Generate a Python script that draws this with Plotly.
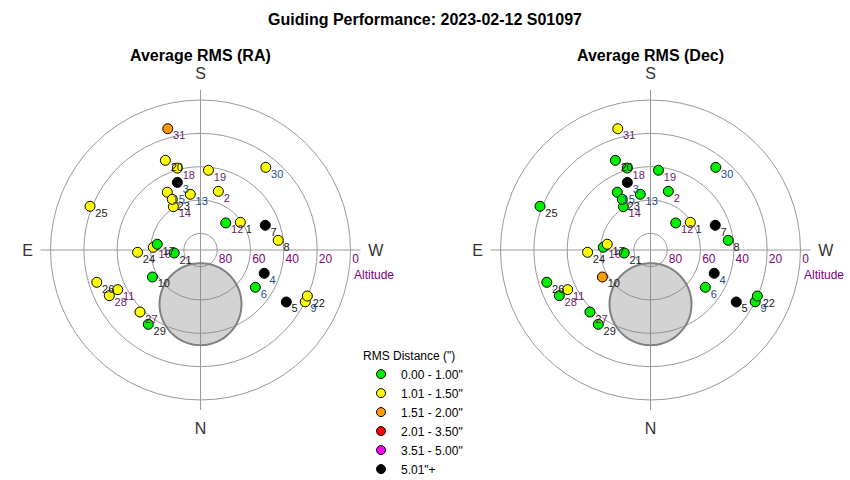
import math
import plotly.graph_objects as go

# ---------------- data ----------------
point_ids = list(range(1, 32))
azimuth = [235.2, 196.9, 161.1, 290.1, 301.2, 304.2, 249.1, 262.9, 296.3, 60.7,
           64.4, 223.0, 169.6, 147.9, 150.1, 93.3, 97.6, 164.2, 185.7, 158.6,
           83.5, 293.3, 150.9, 87.9, 111.6, 72.7, 44.3, 63.4, 35.1, 218.3, 164.9]
altitude = [60.9, 53.2, 47.1, 49.3, 29.8, 50.2, 48.4, 43.0, 19.9, 56.9,
            34.9, 67.8, 56.0, 59.3, 50.0, 61.6, 63.8, 38.9, 41.9, 32.2,
            74.1, 20.2, 55.2, 52.2, 18.7, 24.8, 38.0, 28.8, 35.5, 26.8, 14.6]

bin_labels = ['0.00 - 1.00"', '1.01 - 1.50"', '1.51 - 2.00"',
              '2.01 - 3.50"', '3.51 - 5.00"', '5.01"+']
bin_colors = ["#00ee00", "#ffff00", "#ff9900", "#ff0000", "#ff00ff", "#000000"]

# RMS bin index per point (index into bin_labels)
ra_bin = [1, 1, 5, 5, 5, 0, 5, 1, 1, 0,
          1, 0, 1, 1, 1, 1, 0, 1, 1, 1,
          0, 1, 1, 1, 1, 1, 1, 1, 0, 1, 2]
dec_bin = [1, 0, 5, 5, 5, 0, 5, 0, 0, 2,
           1, 0, 0, 0, 0, 0, 1, 0, 0, 0,
           0, 0, 0, 1, 0, 0, 0, 0, 0, 0, 1]

# label colour class per point
label_palette = ["#1a1a1a", "#6a1a6a", "#1a4a8a"]
label_class = [0, 1, 2, 2, 0, 2, 0, 0, 2, 0,
               1, 1, 2, 1, 2, 1, 0, 1, 1, 0,
               0, 0, 0, 0, 0, 0, 1, 1, 0, 2, 1]

alt_ticks = [80, 60, 40, 20, 0]
compass_az = [0, 90, 180, 270]
compass_txt = ["N", "E", "S", "W"]

# obstructed area (disc) in alt/az
disc_center_alt = 57.5
disc_center_az = 0.0
disc_radius_deg = 24.6

title_text = "Guiding Performance: 2023-02-12 S01097"
sub_titles = ["Average RMS (RA)", "Average RMS (Dec)"]

FONT = "Liberation Sans, Arial"

# ---------------- helpers ----------------
zenith = [90 - a for a in altitude]


def disc_polygon():
    zc = 90 - disc_center_alt
    ang = math.radians(disc_center_az)
    cx, cy = zc * math.sin(ang), zc * math.cos(ang)
    rr, tt = [], []
    for i in range(121):
        t = 2 * math.pi * i / 120
        x = cx + disc_radius_deg * math.cos(t)
        y = cy + disc_radius_deg * math.sin(t)
        rr.append(math.hypot(x, y))
        tt.append(math.degrees(math.atan2(x, y)) % 360)
    return rr, tt


disc_r, disc_t = disc_polygon()

fig = go.Figure()

for pname, bins in [("polar", ra_bin), ("polar2", dec_bin)]:
    fig.add_trace(go.Scatterpolar(
        r=disc_r, theta=disc_t, mode="lines", fill="toself",
        fillcolor="rgba(128,128,128,0.35)",
        line=dict(color="#808080", width=2),
        hoverinfo="skip", showlegend=False, subplot=pname))
    fig.add_trace(go.Scatterpolar(
        r=zenith, theta=azimuth, mode="markers",
        marker=dict(size=10, color=[bin_colors[b] for b in bins],
                    line=dict(color="#000000", width=1)),
        text=[str(p) for p in point_ids], hoverinfo="text",
        showlegend=False, subplot=pname))
    fig.add_trace(go.Scatterpolar(
        r=zenith, theta=azimuth, mode="markers+text",
        text=["\u00a0" + str(p) for p in point_ids],
        textposition="bottom right",
        textfont=dict(size=11, family=FONT,
                      color=[label_palette[c] for c in label_class]),
        marker=dict(size=2, color="rgba(0,0,0,0)"),
        hoverinfo="skip", showlegend=False, subplot=pname, cliponaxis=False))

# legend-only entries
for lab, col in zip(bin_labels, bin_colors):
    fig.add_trace(go.Scatterpolar(
        r=[None], theta=[None], mode="markers", name=lab,
        marker=dict(size=9, color=col, line=dict(color="#000000", width=1)),
        subplot="polar", showlegend=True))

tick_text = []
for a in alt_ticks:
    s = str(a)
    pad = "\u00a0" * (5 if len(s) > 1 else 3)
    tick_text.append(pad + s)


def polar_cfg(dx):
    return dict(
        domain=dict(x=dx, y=[0.1458, 0.8125]),
        bgcolor="white",
        radialaxis=dict(range=[0, 96], tickvals=[90 - a for a in alt_ticks],
                        ticktext=tick_text, angle=0, side="clockwise",
                        showline=False, ticks="", gridcolor="#999999",
                        gridwidth=1,
                        tickfont=dict(color="#800080", size=12, family=FONT)),
        angularaxis=dict(rotation=270, direction="clockwise",
                         tickvals=compass_az, ticktext=compass_txt,
                         showline=False, ticks="outside", ticklen=4,
                         tickcolor="rgba(0,0,0,0)", gridcolor="#999999",
                         gridwidth=1,
                         tickfont=dict(size=16, color="#333333", family=FONT)),
    )


annotations = []
for cx, st in zip([200.5, 650.5], sub_titles):
    annotations.append(dict(text="<b>" + st + "</b>", x=cx / 850, y=(480 - 55) / 480,
                            xref="paper", yref="paper", showarrow=False,
                            xanchor="center", yanchor="middle",
                            font=dict(size=16, color="#000000", family=FONT)))
    annotations.append(dict(text="Altitude", x=(cx + 151) / 850, y=(480 - 275) / 480,
                            xref="paper", yref="paper", showarrow=False,
                            xanchor="left", yanchor="middle",
                            font=dict(size=12, color="#800080", family=FONT)))

fig.update_layout(
    width=850, height=480,
    margin=dict(l=0, r=0, t=0, b=0, autoexpand=False),
    paper_bgcolor="white",
    font=dict(family=FONT, color="#000000"),
    title=dict(text="<b>" + title_text + "</b>", x=0.5, xanchor="center",
               y=(480 - 19) / 480, yanchor="middle",
               font=dict(size=16, color="#000000")),
    polar=polar_cfg([0.0477, 0.4241]),
    polar2=polar_cfg([0.5771, 0.9535]),
    legend=dict(x=361 / 850, y=(480 - 344) / 480, xanchor="left", yanchor="top",
                title=dict(text='RMS Distance (")', font=dict(size=12)),
                font=dict(size=12), bgcolor="rgba(0,0,0,0)",
                tracegroupgap=0, itemsizing="trace"),
    annotations=annotations,
    showlegend=True,
)

fig.write_html("out.html",
               config={"displayModeBar": False},
               post_script="document.body.style.margin='0px';"
                           "document.body.style.overflow='hidden';")
